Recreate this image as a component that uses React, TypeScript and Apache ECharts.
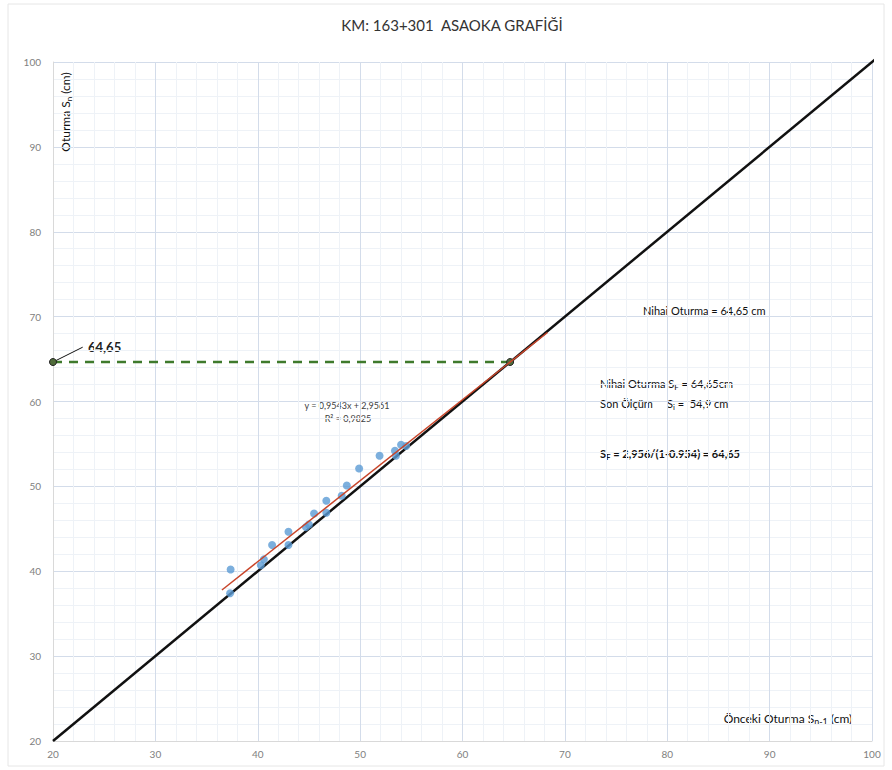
import React, { useEffect, useRef } from 'react';
import * as echarts from 'echarts';

// Axis ranges / ticks
const xTickValues = [20, 30, 40, 50, 60, 70, 80, 90, 100];
const yTickValues = [20, 30, 40, 50, 60, 70, 80, 90, 100];

// Asaoka data: previous settlement S(n-1) vs settlement S(n)
const prevSettlement = [37.35, 37.3, 40.3, 40.6, 41.4, 43.0, 43.0, 44.7, 45.0, 45.5, 46.7, 46.7, 48.2, 48.7, 49.9, 51.9, 53.4, 53.5, 54.0, 54.5];
const settlement = [40.2, 37.4, 40.7, 41.4, 43.1, 44.65, 43.1, 45.2, 45.5, 46.8, 48.3, 46.9, 48.9, 50.1, 52.1, 53.6, 54.2, 53.6, 54.9, 54.75];

// Linear trend line endpoints (y = 0,9543x + 2,9561)
const trendX = [36.5, 68.3];
const trendY = [37.79, 68.13];

// 45-degree line S(n) = S(n-1)
const identityX = [20, 101.5];
const identityY = [20, 101.5];

// Final settlement projection
const finalSettlement = 64.65;
const leaderX = [20, 22.9];
const leaderY = [64.65, 66.4];

const FONT = 'Lato, "Open Sans", sans-serif';

export default function App() {
  const ref = useRef<HTMLDivElement>(null);
  useEffect(() => {
    document.body.style.margin = '0';
    const chart = echarts.init(ref.current!, null, { renderer: 'svg' });
    const sub = (size: number) => ({ fontSize: size, fontFamily: FONT, padding: [7, 0, 0, 0] });
    const option: any = {
      animation: false,
      backgroundColor: '#ffffff',
      grid: { left: 53, right: 20, top: 62, bottom: 29 },
      xAxis: {
        type: 'value', min: 20, max: 100, interval: 10,
        axisLabel: { color: '#808080', fontSize: 10, margin: 8, fontFamily: FONT,
          customValues: xTickValues },
        axisLine: { show: true, lineStyle: { color: '#d9d9d9' } },
        axisTick: { show: false },
        splitLine: { show: true, lineStyle: { color: '#d3dcea', width: 1 } },
        minorTick: { show: false, splitNumber: 5 },
        minorSplitLine: { show: true, lineStyle: { color: '#eef2f7', width: 1 } },
      },
      yAxis: {
        type: 'value', min: 20, max: 100, interval: 10,
        axisLabel: { color: '#808080', fontSize: 10, margin: 12, fontFamily: FONT,
          customValues: yTickValues },
        axisLine: { show: true, lineStyle: { color: '#d9d9d9' } },
        axisTick: { show: false },
        splitLine: { show: true, lineStyle: { color: '#d3dcea', width: 1 } },
        minorTick: { show: false, splitNumber: 5 },
        minorSplitLine: { show: true, lineStyle: { color: '#eef2f7', width: 1 } },
      },
      series: [
        {
          type: 'line', name: 'identity',
          data: identityX.map((x, i) => [x, identityY[i]]),
          symbol: 'none', lineStyle: { color: '#111111', width: 2.5 }, z: 2, clip: false,
        },
        {
          type: 'line', name: 'projection',
          data: [[20, finalSettlement], [finalSettlement, finalSettlement]],
          symbol: 'circle', symbolSize: 7,
          itemStyle: { color: '#4f6b3a', borderColor: '#222', borderWidth: 1 },
          lineStyle: { color: '#3f7a2c', width: 2.5, type: [9, 7] }, z: 4, clip: false,
        },
        {
          type: 'line', name: 'leader',
          data: leaderX.map((x, i) => [x, leaderY[i]]),
          symbol: 'none', lineStyle: { color: '#111111', width: 1 }, z: 3, clip: false,
        },
        {
          type: 'scatter', name: 'data',
          data: prevSettlement.map((x, i) => [x, settlement[i]]),
          symbol: 'circle', symbolSize: 8,
          itemStyle: { color: '#5b9bd5' }, z: 3,
        },
        {
          type: 'line', name: 'trend',
          data: trendX.map((x, i) => [x, trendY[i]]),
          symbol: 'none', lineStyle: { color: '#c8452a', width: 1.5 }, z: 5,
        },
      ],
      graphic: [
        { type: 'rect', shape: { x: 8, y: 4, width: 876, height: 762 }, style: { fill: 'none', stroke: '#e6e6e6', lineWidth: 1 }, silent: true },
        { type: 'text', x: 452, y: 25, style: { text: 'KM: 163+301  ASAOKA GRAFİĞİ', fontSize: 15, fontFamily: FONT, fill: '#333', align: 'center', verticalAlign: 'middle' } },
        {
          type: 'text', x: 65, y: 112, rotation: Math.PI / 2,
          style: {
            text: '{a|Oturma S}{s|n}{a| (cm)}', align: 'center', verticalAlign: 'middle', fill: '#111',
            rich: { a: { fontSize: 12, fontFamily: FONT }, s: sub(8) },
          },
        },
        {
          type: 'text', x: 788, y: 718,
          style: {
            text: '{a|Önceki Oturma S}{s|n-1}{a| (cm)}', align: 'center', verticalAlign: 'middle', fill: '#111',
            rich: { a: { fontSize: 12, fontFamily: FONT }, s: sub(9) },
          },
        },
        { type: 'text', x: 88, y: 347, style: { text: '64,65', fontSize: 13, fontWeight: 'bold', fontFamily: FONT, fill: '#222', align: 'left', verticalAlign: 'middle' } },
        { type: 'text', x: 347, y: 405, style: { text: 'y = 0,9543x + 2,9561', fontSize: 9, fontFamily: FONT, fill: '#404040', align: 'center', verticalAlign: 'middle' } },
        { type: 'text', x: 348, y: 418, style: { text: 'R² = 0,9825', fontSize: 9, fontFamily: FONT, fill: '#404040', align: 'center', verticalAlign: 'middle' } },
        { type: 'text', x: 643, y: 310, style: { text: 'Nihai Oturma = 64,65 cm', fontSize: 11, fontFamily: FONT, fill: '#111', align: 'left', verticalAlign: 'middle' } },
        {
          type: 'text', x: 600, y: 383,
          style: {
            text: '{a|Nihai Oturma S}{s|F}{a| = 64,65cm}', align: 'left', verticalAlign: 'middle', fill: '#111',
            rich: { a: { fontSize: 11, fontFamily: FONT }, s: sub(8) },
          },
        },
        {
          type: 'text', x: 600, y: 403,
          style: {
            text: '{a|Son Ölçüm     S}{s|i}{a| =  54,9 cm}', align: 'left', verticalAlign: 'middle', fill: '#111',
            rich: { a: { fontSize: 11, fontFamily: FONT }, s: sub(8) },
          },
        },
        {
          type: 'text', x: 600, y: 453,
          style: {
            text: '{a|S}{s|F}{a| = 2,956/(1-0.954) = 64,65}', align: 'left', verticalAlign: 'middle', fill: '#111',
            rich: { a: { fontSize: 11, fontWeight: 'bold', fontFamily: FONT }, s: { ...sub(8), fontWeight: 'bold' } },
          },
        },
      ],
    };
    chart.setOption(option);
    return () => chart.dispose();
  }, []);
  return <div ref={ref} style={{ width: 892, height: 770 }} />;
}
